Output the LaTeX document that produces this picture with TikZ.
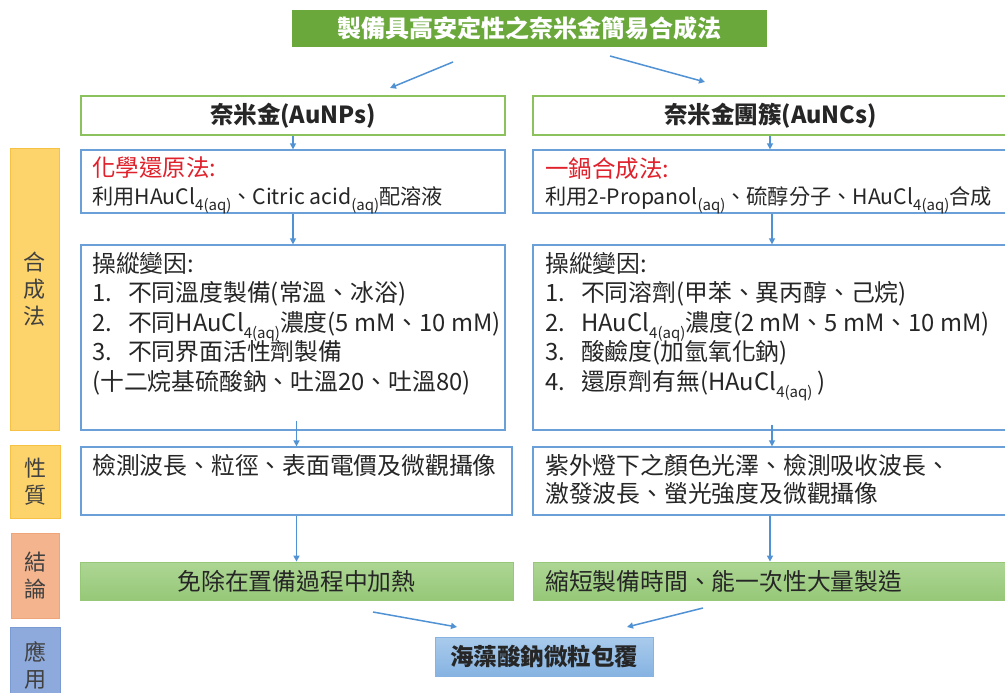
\documentclass[tikz,border=0pt]{standalone}
\usepackage{fontspec}
\setmainfont{Noto Sans CJK TC}
\usetikzlibrary{arrows.meta}
\definecolor{titlegreen}{HTML}{6AA83C}
\definecolor{boxgreen}{HTML}{8CC25E}
\definecolor{boxblue}{HTML}{6A9FD8}
\definecolor{arrowblue}{HTML}{5092D4}
\definecolor{redtxt}{HTML}{E0202A}
\definecolor{txt}{HTML}{262626}
\definecolor{sidetxt}{HTML}{404040}
\definecolor{barorange}{HTML}{FDD46C}
\definecolor{barorangeedge}{HTML}{F5C243}
\definecolor{barsalmon}{HTML}{F4B58E}
\definecolor{barsalmonedge}{HTML}{EFA57A}
\definecolor{barblue}{HTML}{8EAADC}
\definecolor{barblueedge}{HTML}{7A9AD4}
\definecolor{conclgreenL}{HTML}{ADD694}
\definecolor{conclgreenD}{HTML}{96C878}
\definecolor{appblueL}{HTML}{A9CBEC}
\definecolor{appblueD}{HTML}{86B3E2}
\newcommand\aqsub[1]{\smash{\raisebox{-0.3em}{\fontsize{15}{15}\selectfont #1}}}
\newcommand\itm[1]{\makebox[36pt][l]{#1}}
\tikzset{
  x=1pt, y=-1pt,
  titlebox/.style={draw=none, fill=titlegreen, text=white, inner sep=0pt,
    font=\fontsize{24}{28}\selectfont\bfseries},
  headbox/.style={draw=boxgreen, line width=1.3pt, fill=white, inner sep=0pt, text=txt,
    font=\fontsize{23.5}{28}\selectfont\bfseries},
  bluebox/.style={draw=boxblue, line width=1.3pt, fill=white, inner sep=0pt},
  conclbox/.style={draw=conclgreenD, line width=0.8pt, top color=conclgreenL, bottom color=conclgreenD,
    inner sep=0pt, text=txt, font=\fontsize{23.8}{28}\selectfont},
  appbox/.style={draw=appblueD, line width=0.8pt, top color=appblueL, bottom color=appblueD,
    inner sep=0pt, text=txt, font=\fontsize{23.5}{28}\selectfont\bfseries},
  sidebar/.style={inner sep=0pt, text=sidetxt, align=center,
    font=\fontsize{22}{27}\selectfont},
  body/.style={anchor=north west, inner sep=0pt, align=left, text=txt,
    font=\fontsize{23.8}{29.5}\selectfont},
  smalltxt/.style={anchor=north west, inner sep=0pt, text=txt,
    font=\fontsize{21.2}{24}\selectfont},
  redhead/.style={anchor=north west, inner sep=0pt, text=redtxt,
    font=\fontsize{23.5}{28}\selectfont},
  conn/.style={draw=arrowblue, line width=1.5pt, -{Triangle[length=6pt,width=6pt]}},
}
\begin{document}
\begin{tikzpicture}
\clip (0,0) rectangle (1005,693);
\fill[white] (0,0) rectangle (1005,693);

% side bars
\node[sidebar, draw=barorangeedge, fill=barorange, minimum width=49pt, minimum height=282pt] (sSyn) at (34.5,289) {合\\成\\法};
\node[sidebar, draw=barorangeedge, fill=barorange, minimum width=50pt, minimum height=73pt] (sProp) at (35,481.5) {性\\質};
\node[sidebar, draw=barsalmonedge, fill=barsalmon, minimum width=48pt, minimum height=85pt] (sConc) at (35,575.5) {結\\論};
\node[sidebar, draw=barblueedge, fill=barblue, minimum width=50pt, minimum height=76pt] (sApp) at (35,665) {應\\用};

% title
\node[titlebox, minimum width=475pt, minimum height=37pt] (title) at (529.5,28.5) {製備具高安定性之奈米金簡易合成法};

% heads
\node[headbox, minimum width=424pt, minimum height=39pt] (np) at (293,115.5) {奈米金(AuNPs)};
\node[headbox, minimum width=475pt, minimum height=39pt] (nc) at (770.5,115.5) {奈米金團簇(AuNCs)};

% chemistry boxes
\node[bluebox, minimum width=424pt, minimum height=63pt] (chemL) at (293,181.5) {};
\node[bluebox, minimum width=475pt, minimum height=63pt] (chemR) at (770.5,181.5) {};
\node[redhead] (chemLh) at (92,157) {化學還原法:};
\node[smalltxt] (chemLt) at (92,186) {利用HAuCl\aqsub{4(aq)}、Citric acid\aqsub{(aq)}配溶液};
\node[redhead] (chemRh) at (545,157) {一鍋合成法:};
\node[smalltxt] (chemRt) at (545,186) {利用2-Propanol\aqsub{(aq)}、硫醇分子、HAuCl\aqsub{4(aq)}合成};

% variable boxes
\node[bluebox, minimum width=424pt, minimum height=185pt] (varL) at (293,337.5) {};
\node[bluebox, minimum width=475pt, minimum height=185pt] (varR) at (770.5,337.5) {};
\node[body] (varLt) at (92,252) {操縱變因:\\
\itm{1.}不同溫度製備(常溫、冰浴)\\
\itm{2.}不同HAuCl\aqsub{4(aq)}濃度(5 mM、10 mM)\\
\itm{3.}不同界面活性劑製備\\
(十二烷基硫酸鈉、吐溫20、吐溫80)};
\node[body] (varRt) at (545,252) {操縱變因:\\
\itm{1.}不同溶劑(甲苯、異丙醇、己烷)\\
\itm{2.}HAuCl\aqsub{4(aq)}濃度(2 mM、5 mM、10 mM)\\
\itm{3.}酸鹼度(加氫氧化鈉)\\
\itm{4.}還原劑有無(HAuCl\aqsub{4(aq)} )};

% property boxes
\node[bluebox, minimum width=431pt, minimum height=68pt] (propL) at (296.5,481) {};
\node[bluebox, minimum width=475pt, minimum height=68pt] (propR) at (770.5,481) {};
\node[body] (propLt) at (92,454) {檢測波長、粒徑、表面電價及微觀攝像};
\node[body, font=\fontsize{23.8}{28.5}\selectfont] (propRt) at (545,454) {紫外燈下之顏色光澤、檢測吸收波長、\\激發波長、螢光強度及微觀攝像};

% conclusion boxes
\node[conclbox, minimum width=433pt, minimum height=38pt] (concL) at (296.5,581) {免除在置備過程中加熱};
\node[conclbox, minimum width=475pt, minimum height=38pt] (concR) at (770.5,581) {};
\node[body, anchor=west] (concRt) at (545,581) {縮短製備時間、能一次性大量製造};

% application
\node[appbox, minimum width=218pt, minimum height=39pt] (app) at (544,656.5) {海藻酸鈉微粒包覆};

% connectors
\coordinate (t1s) at (453,62); \coordinate (t1e) at (390,88);
\coordinate (t2s) at (610,56); \coordinate (t2e) at (705,82);
\draw[conn] (t1s) -- (t1e);
\draw[conn] (t2s) -- (t2e);
\draw[conn] (np.south) -- (chemL.north);
\draw[conn] (nc.south -| 770,0) -- (chemR.north -| 770,0);
\draw[conn] (chemL.south) -- (varL.north);
\draw[conn] (chemR.south -| 772,0) -- (varR.north -| 772,0);
\draw[conn] ([yshift=10pt]varL.south -| propL.north) -- (propL.north);
\draw[conn] ([yshift=6pt]varR.south -| 772,0) -- (propR.north -| 772,0);
\draw[conn] (propL.south) -- (concL.north);
\draw[conn] (propR.south -| 770,0) -- (concR.north -| 770,0);
\coordinate (b1s) at (373,612); \coordinate (b1e) at (457,627);
\coordinate (b2s) at (703,608); \coordinate (b2e) at (627,627);
\draw[conn] (b1s) -- (b1e);
\draw[conn] (b2s) -- (b2e);
\end{tikzpicture}
\end{document}
